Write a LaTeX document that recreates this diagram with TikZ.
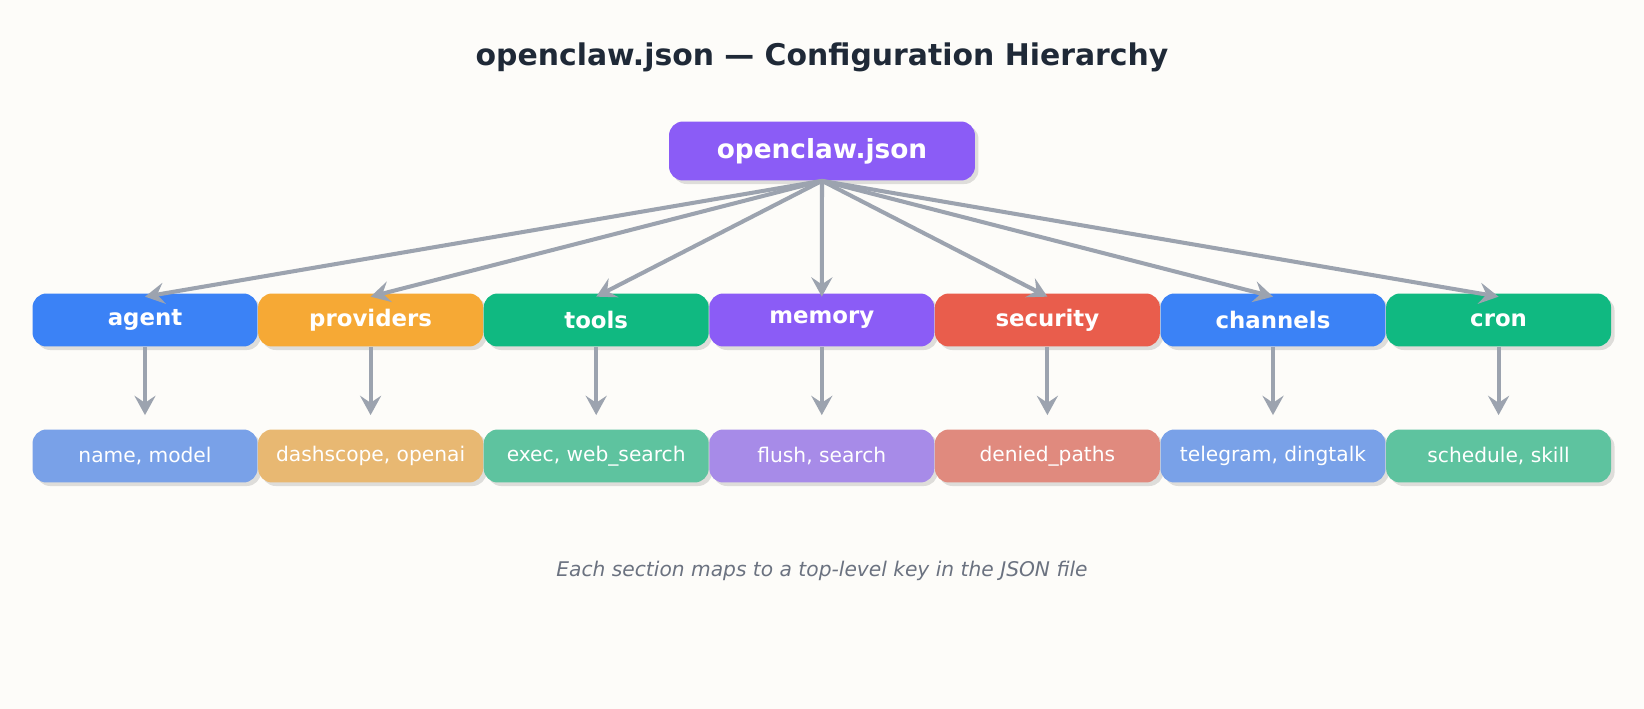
\documentclass[tikz,border=0pt]{standalone}
\usepackage{fontspec}
\setmainfont{DejaVu Sans}
\usetikzlibrary{arrows.meta,positioning,shadows}

\definecolor{bg}{HTML}{FDFCF9}
\definecolor{ink}{HTML}{1F2937}
\definecolor{note}{HTML}{6B7280}
\definecolor{edge}{HTML}{9CA3AF}
\definecolor{cPurple}{HTML}{8B5CF6}
\definecolor{cBlue}{HTML}{3B82F6}
\definecolor{cOrange}{HTML}{F6A935}
\definecolor{cGreen}{HTML}{10B981}
\definecolor{cRed}{HTML}{E95D4C}
\definecolor{lPurple}{HTML}{A78BE8}
\definecolor{lBlue}{HTML}{79A1E8}
\definecolor{lOrange}{HTML}{E8B872}
\definecolor{lGreen}{HTML}{5EC39F}
\definecolor{lRed}{HTML}{E08A7E}

\tikzset{
  box/.style={rounded corners=8pt, minimum width=4.5cm, minimum height=1.06cm,
    text=white, inner sep=0pt,
    drop shadow={shadow xshift=2pt, shadow yshift=-2pt, fill=black, opacity=0.12}},
  key/.style={box, font=\fontsize{13}{15}\selectfont\bfseries},
  val/.style={box, font=\fontsize{11.5}{14}\selectfont},
  link/.style={-{Stealth[length=11pt,width=12pt,inset=4pt]}, line width=2.3pt, draw=edge},
}

\begin{document}
\begin{tikzpicture}[x=0.02cm,y=-0.02cm]
\fill[bg] (0,0) rectangle (1644,709);
\useasboundingbox (0,0) rectangle (1644,709);

\node[font=\fontsize{17}{20}\selectfont\bfseries, text=ink] (title) at (822,57)
  {openclaw.json — Configuration Hierarchy};

\node[key, fill=cPurple, minimum width=6.12cm, minimum height=1.18cm,
  font=\fontsize{15}{18}\selectfont\bfseries] (root) at (822,151) {openclaw.json};

\foreach \name/\col/\sub/\lab [count=\i from 0] in
  {agent/Blue/{name, model}/agent,
   providers/Orange/{dashscope, openai}/providers,
   tools/Green/{exec, web\_search}/tools,
   memory/Purple/{flush, search}/memory,
   security/Red/{denied\_paths}/security,
   channels/Blue/{telegram, dingtalk}/channels,
   cron/Green/{schedule, skill}/cron}
{
  \node[key, fill=c\col] (\name) at (145+225.6*\i,320) {\lab};
  \node[val, fill=l\col] (\name-v) at (145+225.6*\i,456) {\sub};
  \draw[link] (root.south) -- ([yshift=-2pt]\name.north);
  \draw[link] (\name.south) -- ([yshift=8pt]\name-v.north);
}

\node[font=\fontsize{11.5}{14}\selectfont\itshape, text=note] (caption) at (822,571)
  {Each section maps to a top-level key in the JSON file};
\end{tikzpicture}
\end{document}
